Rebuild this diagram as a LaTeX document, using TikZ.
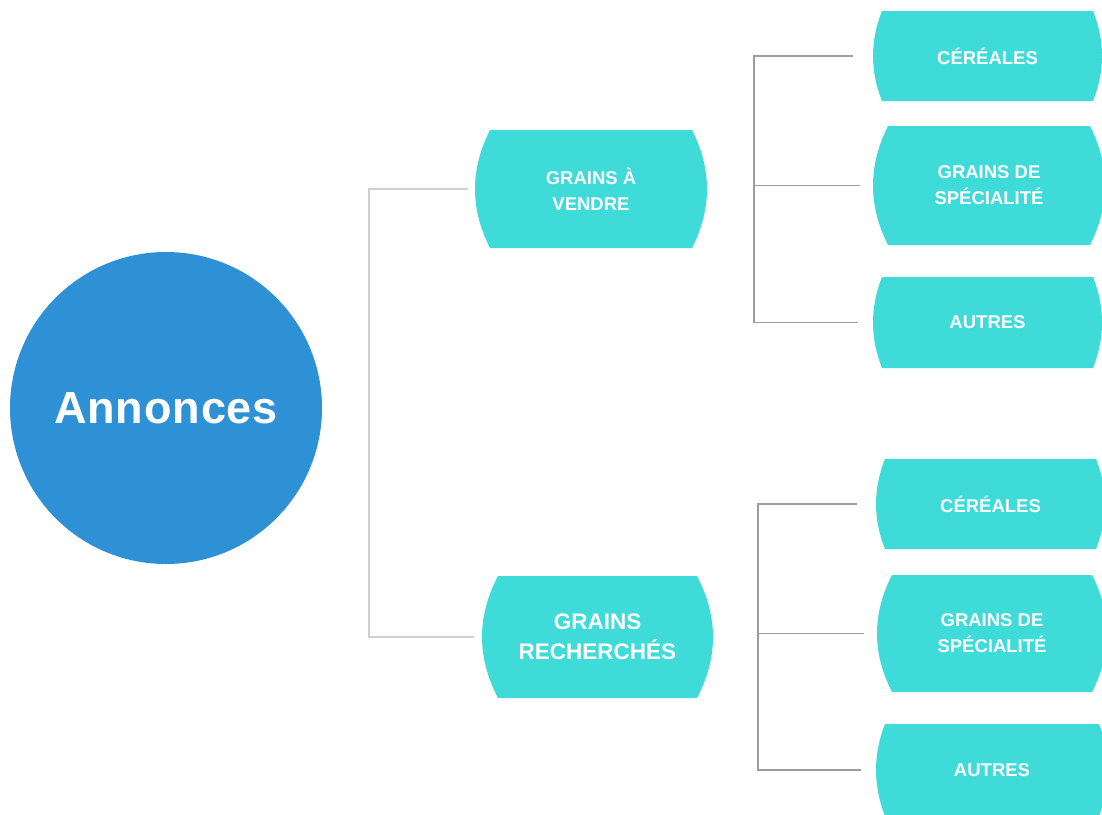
\documentclass[tikz,border=0pt]{standalone}
\usepackage{fontspec}
\setmainfont{Liberation Sans}
\usetikzlibrary{calc}
\definecolor{tealbox}{HTML}{3FDBD8}
\definecolor{bluecirc}{HTML}{2E91D6}
\definecolor{mainline}{HTML}{D0D0D0}
\definecolor{subline}{HTML}{9C9C9C}
\tikzset{
  pill/.style={inner sep=0pt, text=white, align=center,
    path picture={
      \fill[tealbox] let \p1=(path picture bounding box.north west),
        \p2=(path picture bounding box.south east),
        \n1={#1}, \n2={(\y1-\y2)/3} in
        (\x1+\n1,\y1) -- (\x2-\n1,\y1)
        .. controls (\x2+\n1/3,\y1-\n2) and (\x2+\n1/3,\y2+\n2) .. (\x2-\n1,\y2)
        -- (\x1+\n1,\y2)
        .. controls (\x1-\n1/3,\y2+\n2) and (\x1-\n1/3,\y1-\n2) .. cycle;
    }},
  smallfont/.style={font=\fontsize{18.5}{26}\selectfont\bfseries},
  bigfont/.style={font=\fontsize{22.5}{30}\selectfont\bfseries},
  mainconn/.style={draw=mainline, line width=2.6pt},
  subconn/.style={draw=subline, line width=1.8pt},
}
\begin{document}
\begin{tikzpicture}[x=1pt,y=-1pt]
\useasboundingbox (0,0) rectangle (1102,814);
\begin{scope}
\clip (0,0) rectangle (1102,814);
% centre circle
\node[circle, fill=bluecirc, minimum size=312pt, inner sep=0pt, text=white,
      font=\fontsize{45}{54}\selectfont\bfseries\addfontfeatures{LetterSpace=2}] (ann) at (166,408) {Annonces};
% middle level
\node[pill=15pt, smallfont, minimum width=232pt, minimum height=118pt] (gv) at (591,189) {GRAINS À\\VENDRE};
\node[pill=16pt, bigfont, minimum width=231pt, minimum height=122pt] (gr) at (597.5,637) {GRAINS\\RECHERCHÉS};
% right level, top group
\node[pill=9pt, smallfont, minimum width=229pt, minimum height=90pt] (c1) at (987.5,56) {CÉRÉALES};
\node[pill=15pt, smallfont, minimum width=232pt, minimum height=119pt] (g1) at (989,185.5) {GRAINS DE\\SPÉCIALITÉ};
\node[pill=9pt, smallfont, minimum width=229pt, minimum height=91pt] (a1) at (987.5,322.5) {AUTRES};
% right level, bottom group
\node[pill=9pt, smallfont, minimum width=229pt, minimum height=90pt] (c2) at (990.5,504) {CÉRÉALES};
\node[pill=15pt, smallfont, minimum width=230pt, minimum height=117pt] (g2) at (992,633.5) {GRAINS DE\\SPÉCIALITÉ};
\node[pill=9pt, smallfont, minimum width=232pt, minimum height=92pt] (a2) at (992,770) {AUTRES};
% junction columns
\coordinate (mainx) at (369,0);
\coordinate (subx1) at (754,0);
\coordinate (subx2) at (758,0);
% connectors
\draw[mainconn] ([xshift=-7pt]gv.west) -- (gv.west -| mainx) -- (gr.west -| mainx) -- ([xshift=-8pt]gr.west);
\draw[subconn] ([xshift=-20pt]c1.west) -- (c1.west -| subx1) -- (a1.west -| subx1) -- ([xshift=-15pt]a1.west);
\draw[subconn] (g1.west -| subx1) -- ([xshift=-13pt]g1.west);
\draw[subconn] ([xshift=-19pt]c2.west) -- (c2.west -| subx2) -- (a2.west -| subx2) -- ([xshift=-15pt]a2.west);
\draw[subconn] (g2.west -| subx2) -- ([xshift=-13pt]g2.west);
\end{scope}
\end{tikzpicture}
\end{document}
